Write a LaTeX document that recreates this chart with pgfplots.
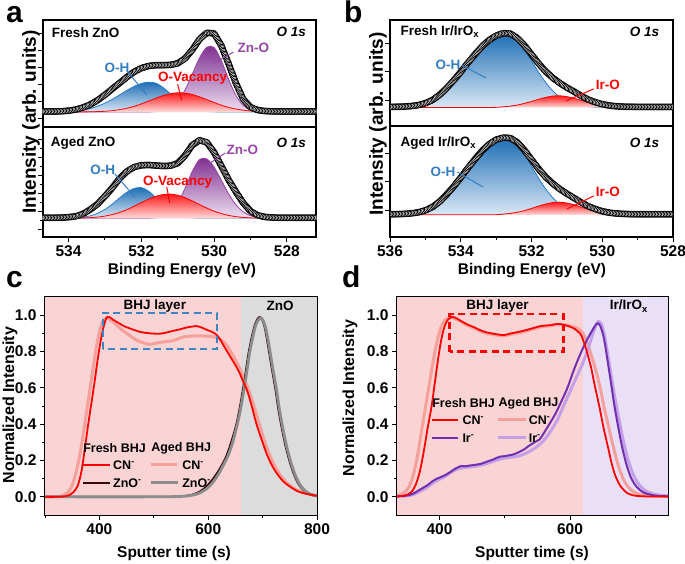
\documentclass[border=0pt]{standalone}
\usepackage{fontspec}
\setmainfont{Liberation Sans}
\usepackage{pgfplots}
\pgfplotsset{compat=1.18}
\usepackage{pgfplotstable}
\usetikzlibrary{decorations.markings}

\definecolor{ohdark}{RGB}{30,110,180}
\definecolor{ohlight}{RGB}{218,232,246}
\definecolor{ohline}{RGB}{40,125,205}
\definecolor{ohtext}{RGB}{50,125,195}
\definecolor{ovdark}{RGB}{255,25,25}
\definecolor{ovlight}{RGB}{255,220,220}
\definecolor{znodark}{RGB}{128,48,145}
\definecolor{znolight}{RGB}{238,224,242}
\definecolor{znoline}{RGB}{150,70,165}
\definecolor{bgpink}{RGB}{250,212,212}
\definecolor{bggray}{RGB}{220,220,220}
\definecolor{bglav}{RGB}{233,223,246}
\definecolor{boxblue}{RGB}{61,133,198}
\definecolor{cnaged}{RGB}{246,160,155}
\definecolor{znfresh}{RGB}{55,10,10}
\definecolor{znaged}{RGB}{140,140,140}
\definecolor{irfresh}{RGB}{112,48,176}
\definecolor{iraged}{RGB}{196,160,232}

\newcommand\tickf{\fontsize{15.5}{18}\selectfont\bfseries}
\newcommand\labf{\fontsize{15.5}{18}\selectfont\bfseries}
\newcommand\ylabA{\fontsize{19}{22}\selectfont\bfseries}
\newcommand\ylabC{\fontsize{16}{19}\selectfont\bfseries}
\newcommand\annf{\fontsize{13.5}{16}\selectfont\bfseries}
\newcommand\legf{\fontsize{12.5}{14}\selectfont\bfseries}
\newcommand\letf{\fontsize{30}{34}\selectfont\bfseries}

\tikzset{envmark/.style={black, line width=0.4pt,
  decoration={markings, mark=between positions 0 and 1 step 1.5pt with {\draw[black,line width=0.75pt,fill=white] (0pt,0pt) circle (3pt);}},
  postaction={decorate}}}

\pgfplotsset{
  base/.style={scale only axis, anchor=south west,
    axis line style={line width=1.1pt},
    tick align=outside, xtick pos=bottom, ytick pos=left,
    major tick length=5pt, minor tick length=3pt,
    every tick/.style={black, line width=0.9pt},
    ticklabel style={font=\tickf},
    /pgf/number format/assume math mode=true},
  xps/.style={base, x dir=reverse, ymin=0, ymax=1, yticklabel=\empty, minor y tick num=1},
}

\pgfplotstableread{
E env oh ov zn
534.8 0.145 0.140 0.140 0.140
534.6 0.145 0.140 0.140 0.140
534.4 0.145 0.141 0.140 0.140
534.2 0.147 0.143 0.140 0.140
534.0 0.152 0.145 0.140 0.140
533.8 0.163 0.151 0.140 0.140
533.6 0.182 0.159 0.141 0.140
533.4 0.210 0.173 0.142 0.140
533.2 0.250 0.194 0.144 0.140
533.0 0.300 0.223 0.147 0.140
532.8 0.355 0.258 0.152 0.140
532.6 0.410 0.299 0.162 0.140
532.4 0.465 0.341 0.175 0.140
532.2 0.515 0.379 0.193 0.140
532.0 0.550 0.407 0.216 0.140
531.8 0.570 0.419 0.242 0.141
531.6 0.578 0.410 0.269 0.144
531.4 0.578 0.369 0.294 0.154
531.2 0.580 0.310 0.311 0.180
531.0 0.595 0.251 0.320 0.239
530.8 0.640 0.203 0.317 0.345
530.6 0.720 0.172 0.304 0.492
530.4 0.820 0.154 0.282 0.646
530.2 0.880 0.145 0.256 0.746
530.0 0.875 0.142 0.229 0.743
529.8 0.760 0.140 0.204 0.620
529.6 0.590 0.140 0.183 0.445
529.4 0.410 0.140 0.168 0.295
529.2 0.260 0.140 0.157 0.202
529.0 0.185 0.140 0.149 0.160
528.8 0.158 0.140 0.145 0.145
528.6 0.149 0.140 0.142 0.141
528.4 0.146 0.140 0.141 0.140
528.2 0.145 0.140 0.140 0.140
528.0 0.145 0.140 0.140 0.140
527.6 0.145 0.140 0.140 0.140
527.2 0.145 0.140 0.140 0.140
527.0 0.145 0.140 0.140 0.140
}\tAf

\pgfplotstableread{
E env oh ov zn
534.8 0.175 0.170 0.170 0.170
534.6 0.175 0.170 0.170 0.170
534.4 0.175 0.170 0.170 0.170
534.2 0.176 0.170 0.170 0.170
534.0 0.180 0.171 0.170 0.170
533.8 0.188 0.174 0.171 0.170
533.6 0.210 0.180 0.173 0.170
533.4 0.250 0.192 0.176 0.170
533.2 0.300 0.215 0.181 0.170
533.0 0.370 0.250 0.190 0.170
532.8 0.445 0.298 0.204 0.170
532.6 0.530 0.354 0.223 0.170
532.4 0.595 0.406 0.248 0.170
532.2 0.635 0.441 0.279 0.170
532.0 0.652 0.449 0.312 0.170
531.8 0.655 0.417 0.344 0.171
531.6 0.650 0.357 0.370 0.175
531.4 0.645 0.290 0.386 0.188
531.2 0.648 0.236 0.390 0.225
531.0 0.670 0.201 0.380 0.307
530.8 0.740 0.182 0.358 0.441
530.6 0.835 0.174 0.328 0.596
530.4 0.880 0.171 0.295 0.705
530.2 0.860 0.170 0.263 0.710
530.0 0.770 0.170 0.235 0.636
529.8 0.645 0.170 0.213 0.516
529.6 0.520 0.170 0.196 0.392
529.4 0.410 0.170 0.185 0.293
529.2 0.310 0.170 0.178 0.229
529.0 0.235 0.170 0.174 0.194
528.8 0.197 0.170 0.172 0.179
528.6 0.182 0.170 0.171 0.173
528.4 0.177 0.170 0.170 0.171
528.2 0.175 0.170 0.170 0.170
528.0 0.175 0.170 0.170 0.170
527.6 0.175 0.170 0.170 0.170
527.2 0.175 0.170 0.170 0.170
527.0 0.175 0.170 0.170 0.170
}\tAa

\pgfplotstableread{
E env oh iro
536.2 0.180 0.175 0.175
536.0 0.180 0.175 0.175
535.8 0.181 0.176 0.175
535.6 0.183 0.178 0.175
535.4 0.188 0.183 0.175
535.2 0.197 0.192 0.175
535.0 0.215 0.210 0.175
534.8 0.245 0.240 0.175
534.6 0.293 0.290 0.175
534.4 0.357 0.355 0.175
534.2 0.430 0.430 0.175
534.0 0.510 0.510 0.175
533.8 0.595 0.600 0.175
533.6 0.675 0.679 0.175
533.4 0.750 0.753 0.175
533.2 0.810 0.814 0.175
533.0 0.852 0.856 0.176
532.8 0.875 0.874 0.181
532.6 0.872 0.862 0.188
532.4 0.830 0.808 0.198
532.2 0.760 0.721 0.213
532.0 0.675 0.616 0.232
531.8 0.590 0.508 0.252
531.6 0.515 0.411 0.270
531.4 0.455 0.332 0.282
531.2 0.405 0.272 0.285
531.0 0.362 0.232 0.277
530.8 0.325 0.206 0.262
530.6 0.285 0.191 0.242
530.4 0.250 0.183 0.222
530.2 0.225 0.178 0.205
530.0 0.206 0.176 0.192
529.8 0.193 0.175 0.184
529.6 0.186 0.175 0.179
529.4 0.182 0.175 0.177
529.2 0.181 0.175 0.176
529.0 0.180 0.175 0.175
528.6 0.180 0.175 0.175
528.2 0.180 0.175 0.175
527.8 0.180 0.175 0.175
}\tBf

\pgfplotstableread{
E env oh iro
536.2 0.205 0.200 0.200
536.0 0.205 0.200 0.200
535.8 0.206 0.201 0.200
535.6 0.208 0.203 0.200
535.4 0.213 0.208 0.200
535.2 0.222 0.217 0.200
535.0 0.240 0.235 0.200
534.8 0.270 0.265 0.200
534.6 0.318 0.315 0.200
534.4 0.382 0.380 0.200
534.2 0.455 0.455 0.200
534.0 0.535 0.535 0.200
533.8 0.620 0.625 0.200
533.6 0.700 0.704 0.200
533.4 0.775 0.778 0.200
533.2 0.835 0.839 0.200
533.0 0.877 0.881 0.201
532.8 0.895 0.893 0.206
532.6 0.892 0.883 0.213
532.4 0.852 0.830 0.223
532.2 0.782 0.744 0.238
532.0 0.698 0.639 0.257
531.8 0.614 0.530 0.278
531.6 0.540 0.433 0.297
531.4 0.482 0.354 0.310
531.2 0.432 0.294 0.314
531.0 0.390 0.254 0.306
530.8 0.352 0.229 0.291
530.6 0.312 0.214 0.270
530.4 0.278 0.206 0.249
530.2 0.252 0.202 0.231
530.0 0.232 0.201 0.218
529.8 0.219 0.200 0.209
529.6 0.212 0.200 0.204
529.4 0.208 0.200 0.202
529.2 0.206 0.200 0.201
529.0 0.205 0.200 0.200
528.6 0.205 0.200 0.200
528.2 0.205 0.200 0.200
527.8 0.205 0.200 0.200
}\tBa

\begin{document}
\begin{tikzpicture}
\useasboundingbox (0,0) rectangle (685pt,563pt);

% ---------------- panel a, top
\begin{axis}[xps, at={(43pt,436pt)}, width=273pt, height=107pt,
  xmin=527.2, xmax=534.7, xtick=\empty,
  ytick={0.081,0.237,0.393,0.555,0.713,0.875}]
\addplot[draw=none, smooth, top color=ohdark, bottom color=ohlight] table[x=E,y=oh]{\tAf};
\addplot[ohline, line width=0.8pt, smooth] table[x=E,y=oh]{\tAf};
\addplot[draw=none, smooth, top color=znodark, bottom color=znolight] table[x=E,y=zn]{\tAf};
\addplot[znoline, line width=0.8pt, smooth] table[x=E,y=zn]{\tAf};
\addplot[draw=none, smooth, top color=ovdark, bottom color=ovlight] table[x=E,y=ov]{\tAf};
\addplot[red, line width=0.8pt, smooth] table[x=E,y=ov]{\tAf};
\addplot[envmark] table[x=E,y=env]{\tAf};
\node[font=\annf, anchor=west] at (534.55,0.885) {Fresh ZnO};
\node[font=\annf\itshape, anchor=east] at (527.38,0.885) {O 1s};
\node[font=\annf, text=ohtext] at (532.67,0.55) {O-H};
\draw[ohtext, line width=1pt] (532.37,0.514) -- (531.85,0.30);
\node[font=\annf, text=red] at (530.59,0.458) {O-Vacancy};
\draw[red, line width=1pt] (531.0,0.40) -- (530.89,0.25);
\node[font=\annf, text=znoline] at (528.92,0.738) {Zn-O};
\draw[znoline, line width=1pt] (529.47,0.70) -- (529.99,0.60);
\end{axis}

% ---------------- panel a, bottom
\begin{axis}[xps, at={(43pt,326pt)}, width=273pt, height=110pt,
  xmin=527.2, xmax=534.7, xtick={528,530,532,534}, minor xtick={529,531,533},
  ytick={0.07,0.234,0.398,0.562,0.726,0.89}]
\addplot[draw=none, smooth, top color=ohdark, bottom color=ohlight] table[x=E,y=oh]{\tAa};
\addplot[ohline, line width=0.8pt, smooth] table[x=E,y=oh]{\tAa};
\addplot[draw=none, smooth, top color=znodark, bottom color=znolight] table[x=E,y=zn]{\tAa};
\addplot[znoline, line width=0.8pt, smooth] table[x=E,y=zn]{\tAa};
\addplot[draw=none, smooth, top color=ovdark, bottom color=ovlight] table[x=E,y=ov]{\tAa};
\addplot[red, line width=0.8pt, smooth] table[x=E,y=ov]{\tAa};
\addplot[envmark] table[x=E,y=env]{\tAa};
\node[font=\annf, anchor=west] at (534.58,0.855) {Aged ZnO};
\node[font=\annf\itshape, anchor=east] at (527.38,0.855) {O 1s};
\node[font=\annf, text=ohtext] at (533.06,0.61) {O-H};
\draw[ohtext, line width=1pt] (532.73,0.575) -- (532.18,0.364);
\node[font=\annf, text=red] at (531.0,0.50) {O-Vacancy};
\draw[red, line width=1pt] (531.3,0.455) -- (531.22,0.31);
\node[font=\annf, text=znoline] at (529.22,0.79) {Zn-O};
\draw[znoline, line width=1pt] (529.69,0.764) -- (530.32,0.627);
\end{axis}

% ---------------- panel b, top
\begin{axis}[xps, at={(390pt,437pt)}, width=283pt, height=106pt,
  xmin=528, xmax=536, xtick=\empty,
  ytick={0.245,0.512,0.78}]
\addplot[draw=none, smooth, top color=ohdark, bottom color=ohlight] table[x=E,y=oh]{\tBf};
\addplot[ohline, line width=0.8pt, smooth] table[x=E,y=oh]{\tBf};
\addplot[draw=none, smooth, top color=ovdark, bottom color=ovlight] table[x=E,y=iro]{\tBf};
\addplot[red, line width=0.8pt, smooth] table[x=E,y=iro]{\tBf};
\addplot[envmark] table[x=E,y=env]{\tBf};
\node[font=\annf, anchor=west] at (535.8,0.887) {Fresh Ir/IrO\textsubscript{x}};
\node[font=\annf\itshape, anchor=east] at (528.29,0.887) {O 1s};
\node[font=\annf, text=ohtext] at (534.36,0.575) {O-H};
\draw[ohtext, line width=1pt] (533.97,0.575) -- (533.29,0.453);
\node[font=\annf, text=red] at (529.84,0.387) {Ir-O};
\draw[red, line width=1pt] (530.24,0.35) -- (531.03,0.236);
\end{axis}

% ---------------- panel b, bottom
\begin{axis}[xps, at={(390pt,326pt)}, width=283pt, height=111pt,
  xmin=528, xmax=536, xtick={528,530,532,534,536}, minor xtick={529,531,533,535},
  ytick={0.243,0.498,0.754}]
\addplot[draw=none, smooth, top color=ohdark, bottom color=ohlight] table[x=E,y=oh]{\tBa};
\addplot[ohline, line width=0.8pt, smooth] table[x=E,y=oh]{\tBa};
\addplot[draw=none, smooth, top color=ovdark, bottom color=ovlight] table[x=E,y=iro]{\tBa};
\addplot[red, line width=0.8pt, smooth] table[x=E,y=iro]{\tBa};
\addplot[envmark] table[x=E,y=env]{\tBa};
\node[font=\annf, anchor=west] at (535.8,0.847) {Aged Ir/IrO\textsubscript{x}};
\node[font=\annf\itshape, anchor=east] at (528.29,0.847) {O 1s};
\node[font=\annf, text=ohtext] at (534.5,0.586) {O-H};
\draw[ohtext, line width=1pt] (534.1,0.586) -- (533.37,0.45);
\node[font=\annf, text=red] at (529.84,0.405) {Ir-O};
\draw[red, line width=1pt] (530.24,0.37) -- (531.0,0.252);
\end{axis}

% ---------------- panel c
\begin{axis}[base, at={(45pt,48pt)}, width=272pt, height=218pt,
  xmin=300, xmax=800, ymin=-0.1, ymax=1.1,
  xtick={400,600,800}, minor xtick={300,500,700},
  ytick={0,0.2,0.4,0.6,0.8,1.0}, minor ytick={0.1,0.3,0.5,0.7,0.9},
  yticklabel style={/pgf/number format/.cd, fixed, fixed zerofill, precision=1}]
\fill[bgpink] (300,-0.1) rectangle (660,1.1);
\fill[bggray] (660,-0.1) rectangle (800,1.1);
\addplot[cnaged, line width=3pt, smooth] coordinates {(300,0) (320,0.001) (330,0.005) (340,0.02) (348,0.05) (355,0.11) (362,0.2) (369,0.32) (376,0.46) (383,0.6) (390,0.74) (396,0.85) (402,0.93) (407,0.97) (413,0.985) (420,0.975) (432,0.945) (441,0.92) (450,0.90) (462,0.875) (475,0.853) (493,0.84) (511,0.85) (525,0.855) (536,0.86) (545,0.87) (554,0.88) (570,0.885) (585,0.886) (600,0.884) (612,0.88) (625,0.862) (635,0.83) (645,0.78) (655,0.725) (665,0.66) (674,0.59) (682,0.52) (690,0.44) (698,0.36) (706,0.285) (715,0.215) (725,0.155) (735,0.11) (747,0.07) (760,0.042) (775,0.024) (790,0.012) (800,0.008)};
\addplot[znfresh, line width=1.8pt, smooth] coordinates {(300,0) (500,0) (540,0.002) (560,0.006) (575,0.016) (585,0.03) (595,0.052) (605,0.085) (615,0.125) (625,0.175) (634,0.23) (642,0.3) (650,0.38) (656,0.46) (662,0.56) (668,0.67) (674,0.79) (680,0.88) (686,0.95) (692,0.985) (695,0.99) (699,0.975) (704,0.93) (710,0.83) (716,0.72) (723,0.6) (729,0.48) (735,0.38) (742,0.28) (750,0.19) (758,0.12) (766,0.07) (774,0.04) (782,0.02) (790,0.01) (800,0.004)};
\addplot[znaged, line width=2.8pt, smooth] coordinates {(300,0) (500,0) (545,0.002) (565,0.006) (580,0.016) (590,0.03) (600,0.052) (610,0.085) (619,0.125) (628,0.175) (637,0.23) (645,0.3) (652,0.38) (658,0.46) (664,0.56) (670,0.67) (676,0.79) (682,0.88) (688,0.95) (694,0.98) (697,0.985) (701,0.97) (706,0.925) (712,0.83) (718,0.72) (725,0.6) (731,0.48) (737,0.38) (744,0.28) (752,0.19) (760,0.12) (768,0.07) (776,0.04) (784,0.02) (792,0.01) (800,0.005)};
\addplot[red, line width=1.8pt, smooth] coordinates {(300,0) (320,0) (335,0.002) (345,0.01) (352,0.025) (360,0.06) (367,0.14) (373,0.26) (379,0.39) (385,0.51) (391,0.63) (397,0.76) (403,0.87) (408,0.94) (413,0.985) (418,0.99) (425,0.975) (432,0.963) (445,0.94) (456,0.927) (475,0.908) (493,0.90) (511,0.898) (524,0.905) (536,0.914) (548,0.922) (560,0.932) (570,0.937) (577,0.94) (585,0.935) (597,0.92) (612,0.90) (620,0.875) (628,0.835) (636,0.795) (643,0.76) (651,0.72) (658,0.68) (664,0.635) (671,0.59) (680,0.50) (686,0.43) (692,0.37) (700,0.30) (707,0.24) (716,0.18) (726,0.13) (738,0.085) (750,0.057) (765,0.03) (781,0.016) (800,0.006)};
\draw[boxblue, line width=2.3pt, dash pattern=on 7pt off 4.5pt] (407,0.815) rectangle (616,1.013);
\node[font=\annf] at (502,1.05) {BHJ layer};
\node[font=\annf] at (732,1.05) {ZnO};
\node[font=\legf, anchor=west, inner sep=0] at (370,0.269) {Fresh BHJ};
\draw[red, line width=2pt] (370,0.176) -- (419.5,0.176);
\node[font=\legf, anchor=west, inner sep=0] at (425,0.176) {CN\textsuperscript{-}};
\draw[znfresh, line width=2pt] (370,0.077) -- (419.5,0.077);
\node[font=\legf, anchor=west, inner sep=0] at (425,0.077) {ZnO\textsuperscript{-}};
\node[font=\legf, anchor=west, inner sep=0] at (495,0.269) {Aged BHJ};
\draw[cnaged, line width=3pt] (495,0.176) -- (543,0.176);
\node[font=\legf, anchor=west, inner sep=0] at (552,0.176) {CN\textsuperscript{-}};
\draw[znaged, line width=3pt] (495,0.077) -- (545,0.077);
\node[font=\legf, anchor=west, inner sep=0] at (552,0.077) {ZnO\textsuperscript{-}};
\end{axis}

% ---------------- panel d
\begin{axis}[base, at={(397pt,48pt)}, width=271pt, height=218pt,
  xmin=335, xmax=750, ymin=-0.1, ymax=1.1,
  xtick={400,600}, minor xtick={500,700},
  ytick={0,0.2,0.4,0.6,0.8,1.0}, minor ytick={0.1,0.3,0.5,0.7,0.9},
  yticklabel style={/pgf/number format/.cd, fixed, fixed zerofill, precision=1}]
\fill[bgpink] (335,-0.1) rectangle (620,1.1);
\fill[bglav] (620,-0.1) rectangle (750,1.1);
\addplot[cnaged, line width=3pt, smooth] coordinates {(335,0.008) (342,0.015) (348,0.03) (354,0.06) (360,0.12) (366,0.22) (372,0.35) (378,0.48) (384,0.61) (390,0.74) (396,0.85) (402,0.93) (408,0.97) (414,0.985) (420,0.985) (430,0.97) (442,0.945) (452,0.93) (462,0.913) (472,0.9) (483,0.893) (492,0.888) (499,0.886) (510,0.895) (524,0.905) (540,0.92) (555,0.935) (570,0.942) (581,0.948) (592,0.946) (601,0.94) (610,0.93) (616,0.915) (620,0.9) (626,0.85) (632,0.785) (640,0.69) (647,0.585) (653,0.48) (660,0.37) (667,0.265) (674,0.17) (682,0.095) (690,0.05) (700,0.022) (712,0.01) (730,0.004) (750,0.003)};
\addplot[iraged, line width=3pt, smooth] coordinates {(335,0.004) (345,0.004) (355,0.008) (362,0.015) (370,0.03) (378,0.045) (386,0.065) (394,0.085) (402,0.1) (410,0.115) (418,0.135) (426,0.15) (434,0.158) (442,0.163) (450,0.166) (458,0.17) (466,0.176) (474,0.185) (482,0.195) (490,0.205) (498,0.212) (506,0.216) (514,0.22) (522,0.226) (530,0.236) (538,0.25) (546,0.268) (554,0.29) (562,0.32) (570,0.36) (580,0.42) (590,0.5) (600,0.58) (610,0.66) (620,0.74) (628,0.82) (636,0.91) (641,0.955) (644,0.965) (648,0.95) (652,0.9) (656,0.82) (661,0.71) (666,0.6) (672,0.48) (678,0.37) (684,0.27) (690,0.19) (697,0.12) (705,0.07) (715,0.035) (728,0.015) (740,0.008) (750,0.006)};
\addplot[irfresh, line width=2pt, smooth] coordinates {(335,0.003) (345,0.004) (352,0.008) (360,0.018) (368,0.035) (375,0.05) (382,0.065) (389,0.085) (396,0.1) (403,0.11) (410,0.122) (416,0.135) (422,0.15) (428,0.162) (434,0.17) (440,0.168) (446,0.172) (452,0.175) (458,0.178) (464,0.182) (470,0.19) (476,0.198) (482,0.205) (488,0.215) (494,0.222) (500,0.224) (506,0.228) (512,0.232) (518,0.24) (524,0.25) (530,0.262) (536,0.278) (542,0.292) (548,0.305) (553,0.315) (558,0.34) (564,0.375) (570,0.41) (578,0.46) (586,0.52) (596,0.6) (606,0.7) (615,0.78) (624,0.85) (633,0.91) (639,0.945) (643,0.955) (647,0.935) (652,0.87) (657,0.76) (663,0.62) (668,0.5) (674,0.38) (680,0.27) (687,0.17) (694,0.1) (702,0.055) (712,0.025) (725,0.01) (740,0.004) (750,0.003)};
\addplot[red, line width=1.8pt, smooth] coordinates {(335,0.003) (345,0.006) (352,0.015) (358,0.03) (364,0.07) (370,0.14) (376,0.25) (382,0.38) (388,0.5) (393,0.63) (398,0.76) (403,0.87) (408,0.94) (413,0.975) (419,0.99) (425,0.985) (432,0.97) (442,0.95) (452,0.935) (462,0.918) (472,0.905) (483,0.898) (492,0.892) (499,0.89) (510,0.9) (524,0.91) (540,0.925) (555,0.94) (570,0.945) (581,0.952) (592,0.946) (601,0.935) (607,0.925) (612,0.91) (617,0.89) (624,0.82) (632,0.715) (638,0.61) (645,0.495) (651,0.385) (658,0.275) (664,0.18) (670,0.11) (678,0.055) (688,0.02) (700,0.006) (720,0.002) (750,0.002)};
\draw[red, line width=2.3pt, dash pattern=on 7pt off 4.5pt] (415.5,0.80) rectangle (590,1.005);
\node[font=\annf] at (489,1.05) {BHJ layer};
\node[font=\annf] at (690,1.05) {Ir/IrO\textsubscript{x}};
\node[font=\legf, anchor=west, inner sep=0] at (388.8,0.516) {Fresh BHJ};
\draw[red, line width=2pt] (388.8,0.423) -- (428.8,0.423);
\node[font=\legf, anchor=west, inner sep=0] at (435,0.423) {CN\textsuperscript{-}};
\draw[irfresh, line width=2pt] (388.8,0.324) -- (428.8,0.324);
\node[font=\legf, anchor=west, inner sep=0] at (435,0.324) {Ir\textsuperscript{-}};
\node[font=\legf, anchor=west, inner sep=0] at (490.4,0.516) {Aged BHJ};
\draw[cnaged, line width=3pt] (490.4,0.423) -- (532,0.423);
\node[font=\legf, anchor=west, inner sep=0] at (536.5,0.423) {CN\textsuperscript{-}};
\draw[iraged, line width=3pt] (490.4,0.324) -- (532,0.324);
\node[font=\legf, anchor=west, inner sep=0] at (536.5,0.324) {Ir\textsuperscript{-}};
\end{axis}

% ---------------- labels
\node[font=\ylabA, rotate=90] at (31pt,441pt) {Intensity (arb. units)};
\node[font=\ylabA, rotate=90] at (378pt,439pt) {Intensity (arb. units)};
\node[font=\labf] at (182pt,292pt) {Binding Energy (eV)};
\node[font=\labf] at (532pt,292pt) {Binding Energy (eV)};
\node[font=\ylabC, rotate=90] at (10pt,158pt) {Normalized Intensity};
\node[font=\ylabC, rotate=90] at (350pt,165pt) {Normalized Intensity};
\node[font=\labf] at (174pt,10pt) {Sputter time (s)};
\node[font=\labf] at (532pt,10pt) {Sputter time (s)};
\node[font=\letf, anchor=base west, inner sep=0] at (6pt,540pt) {a};
\node[font=\letf, anchor=base west, inner sep=0] at (344pt,540pt) {b};
\node[font=\letf, anchor=base west, inner sep=0] at (6pt,276pt) {c};
\node[font=\letf, anchor=base west, inner sep=0] at (342pt,276pt) {d};
\end{tikzpicture}
\end{document}
